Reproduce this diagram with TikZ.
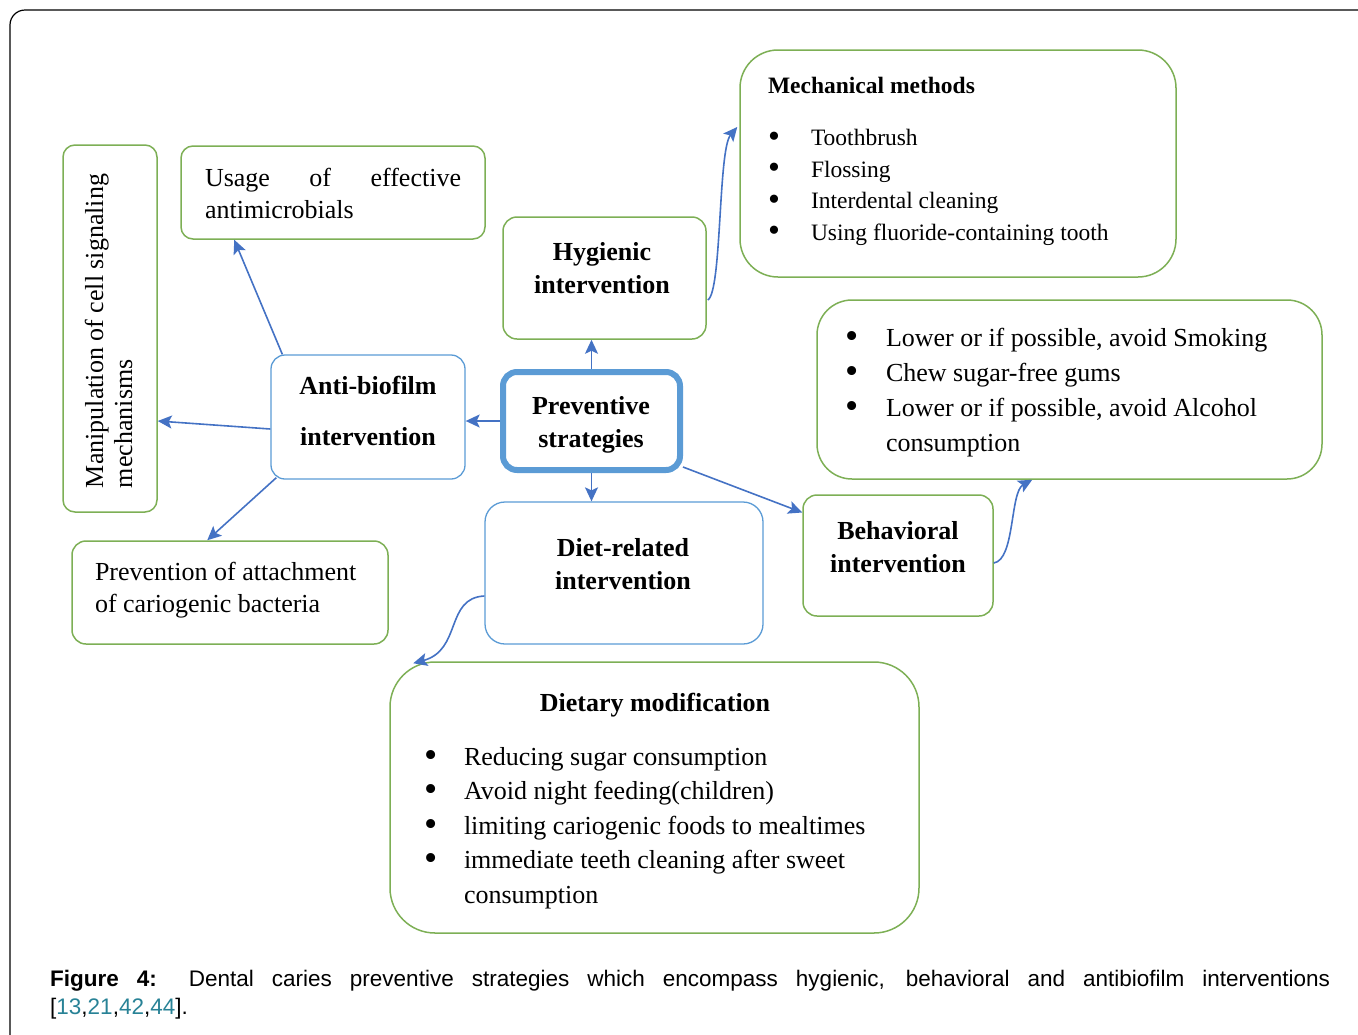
\documentclass[tikz,border=0pt]{standalone}
\usepackage{fontspec}
\setmainfont{Liberation Serif}
\newfontfamily\capfont{Liberation Sans}
\usetikzlibrary{arrows.meta,calc}
\definecolor{gbord}{RGB}{125,175,85}
\definecolor{bbord}{RGB}{91,155,213}
\definecolor{arrc}{RGB}{68,114,196}
\definecolor{citec}{RGB}{40,130,150}
\newcommand\mybul[1]{\makebox[#1][l]{\raisebox{-0.08em}{\scalebox{1.45}{\textbullet}}}}
\begin{document}
\begin{tikzpicture}[x=1pt,y=-1pt,
  gbox/.style={draw=gbord, line width=1.5pt, inner sep=0pt},
  bbox/.style={draw=bbord, line width=1.3pt, inner sep=0pt},
  txt/.style={inner sep=0pt, outer sep=0pt, font=\fontsize{26}{32}\selectfont},
  btxt/.style={inner sep=0pt, outer sep=0pt, font=\fontsize{26}{33}\selectfont\bfseries, align=center, anchor=base},
  arr/.style={draw=arrc, line width=1.6pt, -{Stealth[length=14pt,width=13pt,inset=3pt]}}]
\useasboundingbox (0,0) rectangle (1358,1034);
% outer frame
\draw[line width=1.2pt, rounded corners=15pt] (10,1060) -- (10,10) -- (1390,10);

% boxes
\node[gbox, rounded corners=12pt, minimum width=94pt, minimum height=367pt] (manip) at (110,328.5) {};
\node[gbox, rounded corners=12pt, minimum width=304pt, minimum height=93pt] (usage) at (333,192.5) {};
\node[gbox, rounded corners=14pt, minimum width=203pt, minimum height=122pt] (hyg) at (604.5,278) {};
\node[gbox, rounded corners=38pt, minimum width=436pt, minimum height=227pt] (mech) at (958,163.5) {};
\node[gbox, rounded corners=35pt, minimum width=505pt, minimum height=179pt] (blist) at (1069.5,389.5) {};
\node[bbox, rounded corners=14pt, minimum width=194pt, minimum height=124pt] (anti) at (368,417) {};
\node[draw=bbord, line width=6pt, inner sep=0pt, rounded corners=14pt, minimum width=177pt, minimum height=98pt] (prev) at (591.5,421) {};
\node[bbox, rounded corners=20pt, minimum width=278pt, minimum height=142pt] (diet) at (624,573) {};
\node[gbox, rounded corners=14pt, minimum width=190pt, minimum height=121pt] (behav) at (898,555.5) {};
\node[gbox, rounded corners=14pt, minimum width=316pt, minimum height=103pt] (prevent) at (230,592.5) {};
\node[gbox, rounded corners=45pt, minimum width=529pt, minimum height=271pt] (dmod) at (654.5,797.5) {};

% texts (multi-line nodes: base anchor = last line's baseline)
\node[txt, rotate=90, anchor=base west, align=left, font=\fontsize{26}{29}\selectfont] (tmanip) at (132,488) {Manipulation of cell signaling\\mechanisms};
\node[txt, anchor=base west, text width=256pt, align=justify] (tusage) at (205,186) {Usage of effective\linebreak antimicrobials};
\node[btxt] (thyg) at (602,293) {Hygienic\\intervention};
\node[txt, anchor=base west, font=\fontsize{23.5}{30}\selectfont\bfseries] (tmech) at (768,93) {Mechanical methods};
\node[txt, anchor=base west, align=left, font=\fontsize{23.5}{31.5}\selectfont] (tmlist) at (768,240) {\mybul{43pt}Toothbrush\\\mybul{43pt}Flossing\\\mybul{43pt}Interdental cleaning\\\mybul{43pt}Using fluoride-containing tooth};
\node[txt, anchor=base west, align=left, font=\fontsize{26}{34.7}\selectfont] (tblist) at (845,451) {\mybul{41pt}Lower or if possible, avoid Smoking\\\mybul{41pt}Chew sugar-free gums\\\mybul{41pt}Lower or if possible, avoid Alcohol\\\hspace*{41pt}consumption};
\node[btxt, font=\fontsize{26}{51}\selectfont\bfseries] (tanti) at (368,445) {Anti-biofilm\\intervention};
\node[btxt] (tprev) at (591,447) {Preventive\\strategies};
\node[btxt] (tbehav) at (898,572) {Behavioral\\intervention};
\node[btxt] (tdiet) at (623,589) {Diet-related\\intervention};
\node[txt, anchor=base west, align=left] (tprevent) at (95,612) {Prevention of attachment\\of cariogenic bacteria};
\node[btxt] (tdmod) at (655,711) {Dietary modification};
\node[txt, anchor=base west, align=left, font=\fontsize{26}{34.5}\selectfont] (tdlist) at (424,903) {\mybul{40pt}Reducing sugar consumption\\\mybul{40pt}Avoid night feeding(children)\\\mybul{40pt}limiting cariogenic foods to mealtimes\\\mybul{40pt}immediate teeth cleaning after sweet\\\hspace*{40pt}consumption};

% caption
\node[inner sep=0pt, anchor=base west, text width=1280pt, align=justify, font=\capfont\fontsize{22.5}{28}\selectfont] (cap) at (50,986) {\textbf{Figure 4:} Dental caries preventive strategies which encompass hygienic, behavioral and antibiofilm interventions\linebreak{}{[}\textcolor{citec}{13},\textcolor{citec}{21},\textcolor{citec}{42},\textcolor{citec}{44}].};

% straight arrows
\draw[arr] (prev.north) -- (prev.north |- hyg.south);
\draw[arr] (prev.west) -- (anti.east |- prev.west);
\draw[arr] (prev.south) -- (prev.south |- diet.north);
\draw[arr] ($(prev.south east)+(0,-6)$) -- ($(behav.west)+(0,-43)$);
\draw[arr] ($(anti.north west)+(12,0)$) -- ($(usage.south west)+(54,0)$);
\draw[arr] ($(anti.west)+(0,12)$) -- ($(manip.east)+(0,92.5)$);
\draw[arr] ($(anti.south west)+(6,-2)$) -- ($(prevent.north west)+(136,0)$);
% curved arrows
\draw[arr] ($(hyg.east)+(1,22)$) .. controls (722,292) and (718,150) .. ($(mech.west)+(-2,-36.5)$);
\draw[arr] ($(behav.east)+(0,7.5)$) .. controls (1015,560) and (1010,492) .. ($(blist.south west)+(216,0)$);
\draw[arr] ($(diet.west)+(0,23)$) .. controls (445,598) and (462,650) .. ($(dmod.north west)+(24,2)$);
\end{tikzpicture}
\end{document}
